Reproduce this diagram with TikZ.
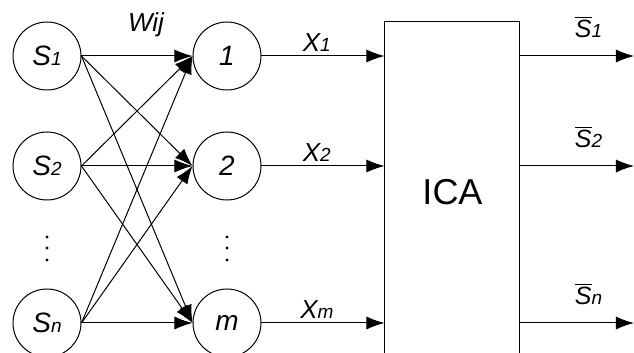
\documentclass[tikz,border=0pt]{standalone}
\usepackage{fontspec}
\setmainfont{Liberation Sans}
\usetikzlibrary{arrows.meta}
\newcommand{\idx}[1]{{\fontsize{9.5}{9.5}\selectfont #1}}
\begin{document}
\begin{tikzpicture}[x=0.5pt, y=-0.5pt, line width=0.5pt,
    neuron/.style={draw, circle, minimum size=34pt, inner sep=0pt, line width=0.5pt,
      font=\fontsize{14}{16}\selectfont\itshape},
    link/.style={-{Latex[length=9pt,width=6.5pt]}},
    lbl/.style={font=\fontsize{13}{15}\selectfont\itshape, inner sep=1pt}]
  \clip (0,0) rectangle (634,353);
  % Sources and mixtures
  \foreach \n/\s/\y in {1/1/56, 2/2/166, n/n/323}
    \node[neuron] (s\n) at (47,\y) {S\idx{\s}};
  \foreach \n/\y in {1/56, 2/166, m/323}
    \node[neuron] (x\n) at (227,\y) {\n};
  % Dots
  \foreach \x in {47,227}
    \foreach \y in {237,248,260}
      \fill (\x,\y) circle (1.6);
  % Weights
  \foreach \i in {1,2,n}
    \foreach \j in {1,2,m}
      \draw[link] (s\i.east) -- (x\j.west);
  \node[lbl] (wij) at (146,25) {Wij};
  % ICA block
  \node[draw, line width=0.5pt, minimum width=67.5pt, minimum height=170pt, inner sep=0pt,
    font=\fontsize{18}{20}\selectfont] (ica) at (452.5,192) {ICA};
  % Into the block
  \foreach \j/\s in {1/1, 2/2, m/m}
    \draw[link] (x\j.east) -- (x\j.east -| ica.west)
      node[lbl, pos=0.45, above=1pt] (lx\j) {X\idx{\s}};
  % Estimated sources
  \foreach \i/\y in {1/56, 2/166, n/323} {
    \coordinate (o\i) at (634,\y);
    \draw[link] (ica.east |- s\i) -- (o\i)
      node[lbl, pos=0.6, above=8pt, font=\fontsize{12.5}{14}\selectfont\itshape] (ls\i)
      {$\overline{\mbox{S}}$\idx{\i}};
  }
\end{tikzpicture}
\end{document}
